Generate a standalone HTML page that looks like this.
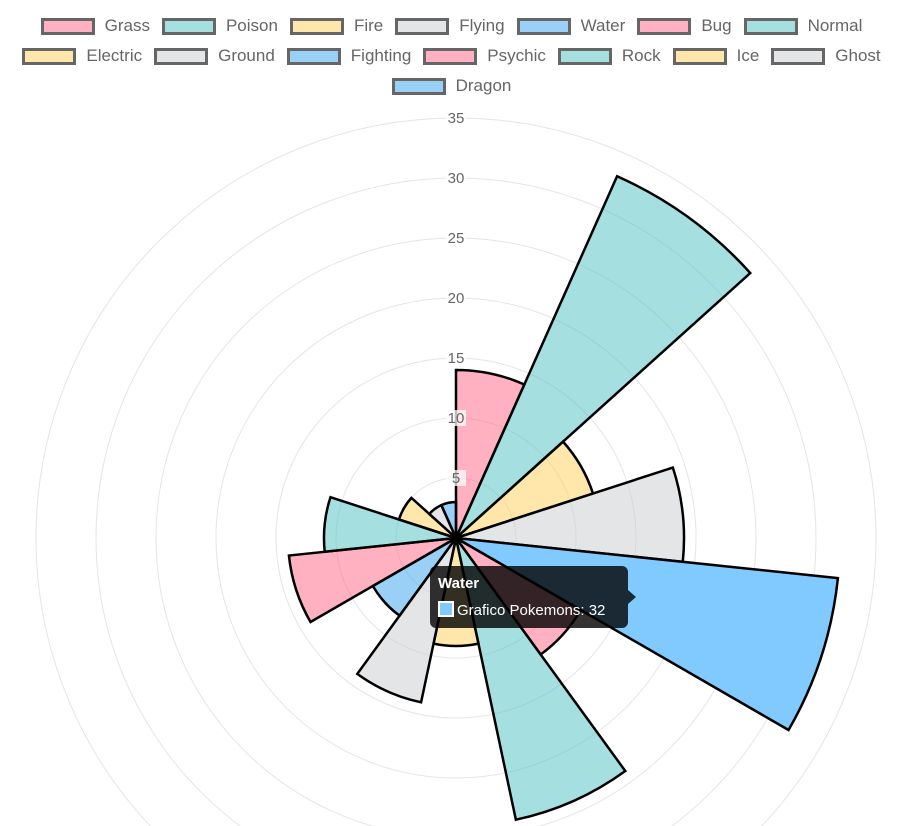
<!DOCTYPE html>
<html><head><meta charset="utf-8"><style>
html,body{margin:0;width:903px;height:826px;overflow:hidden;background:#fff;font-family:"Liberation Sans",sans-serif;}
#legend{position:absolute;left:0;top:11px;width:903px;}
.row{display:flex;justify-content:center;height:30px;align-items:center;}
.item{display:flex;align-items:center;margin:0 6px;font-size:17px;color:#666;}
.box{width:48px;height:11px;border:3px solid #666;margin-right:10px;}
svg{position:absolute;left:0;top:0;}
</style></head><body>
<div id="legend"></div>
<svg id="chart" width="903" height="826"></svg>
<script>
const categories=["Grass","Poison","Fire","Flying","Water","Bug","Normal","Electric","Ground","Fighting","Psychic","Rock","Ice","Ghost","Dragon"];
const values=[14,33,12,19,32,12,24,9,14,8,14,11,5,3,3];
const ticks=[5,10,15,20,25,30,35];
const palette=["rgba(255,99,132,0.5)","rgba(75,192,192,0.5)","rgba(255,205,86,0.5)","rgba(201,203,207,0.5)","rgba(54,162,235,0.5)"];
const NS="http://www.w3.org/2000/svg";
const svg=document.getElementById('chart');
const cx=456,cy=538,ppu=12;
function r(v){return v*ppu;}
function colorOf(i){return i===4?"rgba(128,202,255,1)":palette[i%5];}
const leg=document.getElementById('legend');
const rows=[[0,7],[7,14],[14,15]];
rows.forEach(([a,b])=>{const row=document.createElement('div');row.className='row';
for(let i=a;i<b;i++){const it=document.createElement('div');it.className='item';


const bx=document.createElement('div');bx.className='box';bx.style.background=palette[i%5];
it.appendChild(bx);it.appendChild(document.createTextNode(categories[i]));row.appendChild(it);}
leg.appendChild(row);});
function el(t,a){const e=document.createElementNS(NS,t);for(const k in a)e.setAttribute(k,a[k]);svg.appendChild(e);return e;}
ticks.forEach(t=>{const c=el('circle',{cx,cy,r:r(t),fill:'none',stroke:'#e5e5e5','stroke-width':1});

});
const n=categories.length,step=2*Math.PI/n;
values.forEach((v,i)=>{const a0=-Math.PI/2+i*step,a1=a0+step,R=r(v);
const x0=cx+R*Math.cos(a0),y0=cy+R*Math.sin(a0),x1=cx+R*Math.cos(a1),y1=cy+R*Math.sin(a1);
const p=el('path',{d:`M${cx},${cy}L${x0},${y0}A${R},${R} 0 0 1 ${x1},${y1}Z`,fill:colorOf(i),stroke:'#000','stroke-width':2.5,'stroke-linejoin':'miter'});

});
ticks.forEach(t=>{const y=cy-r(t);
const b=el('rect',{x:cx-10,y:y-8,width:20,height:16,fill:'rgba(255,255,255,0.75)'});


const tx=el('text',{x:cx,y:y+5,'text-anchor':'middle','font-size':15,fill:'#666'});tx.textContent=t;

});
const tg=el('g',{});


const tp=document.createElementNS(NS,'path');
tp.setAttribute('d','M436,566H622a6,6 0 0 1 6,6V590L636,597L628,604V622a6,6 0 0 1 -6,6H436a6,6 0 0 1 -6,-6V572a6,6 0 0 1 6,-6Z');
tp.setAttribute('fill','rgba(0,0,0,0.8)');tg.appendChild(tp);
const t1=document.createElementNS(NS,'text');t1.setAttribute('x',438);t1.setAttribute('y',588);t1.setAttribute('fill','#fff');t1.setAttribute('font-weight','bold');t1.setAttribute('font-size',15);t1.textContent=categories[4];tg.appendChild(t1);
const sq=document.createElementNS(NS,'rect');sq.setAttribute('x',439);sq.setAttribute('y',602);sq.setAttribute('width',14);sq.setAttribute('height',14);sq.setAttribute('fill','rgba(128,202,255,1)');sq.setAttribute('stroke','#fff');sq.setAttribute('stroke-width',2);tg.appendChild(sq);
const t2=document.createElementNS(NS,'text');t2.setAttribute('x',457);t2.setAttribute('y',615);t2.setAttribute('fill','#fff');t2.setAttribute('font-size',15);t2.textContent='Grafico Pokemons: '+values[4];tg.appendChild(t2);
</script>
</body></html>
